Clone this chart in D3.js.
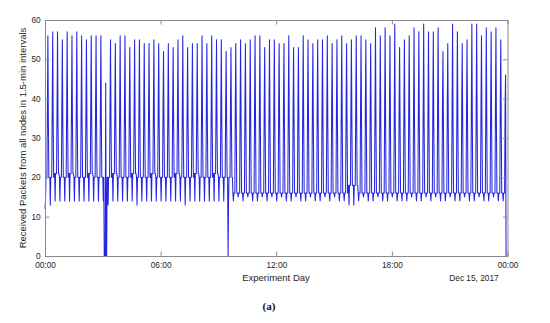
<!DOCTYPE html>
<html><head><meta charset="utf-8">
<script src="https://cdn.jsdelivr.net/npm/d3@7"></script>
<style>body{margin:0;background:#fff}svg{display:block}</style></head><body>
<svg id="c" width="550" height="323"></svg>
<script>
// ---- data ----
const xTickHours = [0, 6, 12, 18, 24];
const yTicks = [0, 10, 20, 30, 40, 50, 60];
// peak value of each 15-min cycle (96 cycles over the day)
const peaks = [
56,57,57,55,57,56,57,56,55,56,56,56,44,55,54,56,
56,53,55,55,54,54,55,54,52,54,53,55,56,53,54,54,
56,54,56,55,55,52,53,54,55,54,55,56,56,53,55,55,
54,54,56,53,53,56,55,54,55,55,56,54,55,56,54,55,
56,56,55,54,58,56,58,56,59,53,55,56,58,57,59,57,
57,58,52,54,59,57,54,55,59,59,56,58,57,58,55,46];
// lowest value of each cycle
const lows = [
14,13,14,14,14,14,14,14,14,14,14,14,14,13,14,14,
14,14,14,13,14,14,14,14,14,14,14,14,14,13,14,14,
14,14,14,14,14,14,14,14,15,14,15,14,14,15,14,15,
14,15,14,14,15,14,14,15,14,14,15,14,15,14,14,13,
13,14,15,14,14,15,14,14,15,14,14,14,15,14,14,15,
14,15,14,14,15,14,14,15,14,14,15,14,14,15,14,14];
// baseline level between peaks of each cycle
const mids = [
20,20,21,20,20,21,20,20,20,21,20,20,20,20,21,20,
20,20,21,20,20,20,21,20,20,20,20,21,20,20,20,21,
20,20,20,21,20,20,20,16,16,16,16,16,16,16,16,16,
16,16,16,16,16,16,16,16,16,16,16,16,16,16,16,18,
18,16,16,16,16,16,16,16,16,16,16,16,16,16,16,16,
16,16,16,16,16,16,16,16,16,16,16,16,16,16,16,16];
// levels crossed on the rising / falling flank of a peak
const flankLevels = [38, 34];
// individual samples that differ (sample index, value): start, dropouts, end
const overrides = [[0,12],[123,0],[124,0],[125,0],[127,0],[128,0],[380,0],[957,0],[958,0],[959,0]];

// ---- build the 1.5-min series ----
const t0 = new Date(2017, 11, 14, 0, 0, 0);
const step = 90 * 1000;
const values = [];
peaks.forEach((pk, k) => {
  const lo = lows[k], md = mids[k];
  values.push(md, lo, md, md, md, flankLevels[0], pk, flankLevels[1], md, md);
});
overrides.forEach(([i, v]) => { values[i] = v; });
const series = values.map((v, i) => ({t: new Date(+t0 + i * step), v}));

// ---- layout ----
const svg = d3.select("#c");
const L = 45, R = 507.5, T = 20, B = 256;
const x = d3.scaleTime().domain([t0, new Date(2017, 11, 15, 0, 0, 0)]).range([L, R]);
const y = d3.scaleLinear().domain([0, 60]).range([B, T]);
const axisColor = "#8a8a8a", textColor = "#262626";
const font = "'Liberation Sans', Arial, Helvetica, sans-serif";

// line
svg.append("path")
  .datum(series)
  .attr("fill", "none")
  .attr("stroke", "#2626e0")
  .attr("stroke-width", 1.05)
  .attr("stroke-linejoin", "round")
  .attr("d", d3.line().x(d => x(d.t)).y(d => y(d.v)));

const tickDates = xTickHours.map(h => new Date(+t0 + h * 3600 * 1000));
const fmt = d3.timeFormat("%H:%M");

function styleAxis(g, showText) {
  g.select(".domain").attr("stroke", axisColor).attr("stroke-width", 1);
  g.selectAll(".tick line").attr("stroke", axisColor);
  g.selectAll(".tick text").attr("fill", textColor).style("font-family", font).style("font-size", "8.3px");
  if (!showText) g.selectAll(".tick text").remove();
}

svg.append("g").attr("transform", `translate(0,${B})`)
  .call(d3.axisBottom(x).tickValues(tickDates).tickFormat(fmt).tickSizeInner(-4.5).tickSizeOuter(0).tickPadding(6))
  .call(g => styleAxis(g, true));
svg.append("g").attr("transform", `translate(0,${T})`)
  .call(d3.axisTop(x).tickValues(tickDates).tickFormat(fmt).tickSizeInner(-4.5).tickSizeOuter(0))
  .call(g => styleAxis(g, false));
svg.append("g").attr("transform", `translate(${L},0)`)
  .call(d3.axisLeft(y).tickValues(yTicks).tickSizeInner(-4.5).tickSizeOuter(0).tickPadding(4.3))
  .call(g => styleAxis(g, true));
svg.append("g").attr("transform", `translate(${R},0)`)
  .call(d3.axisRight(y).tickValues(yTicks).tickSizeInner(-4.5).tickSizeOuter(0))
  .call(g => styleAxis(g, false));

// labels
svg.append("text").attr("x", 276).attr("y", 281).attr("text-anchor", "middle")
  .attr("fill", textColor).style("font-family", font).style("font-size", "9.5px").text("Experiment Day");
svg.append("text").attr("x", 474).attr("y", 281).attr("text-anchor", "middle")
  .attr("fill", textColor).style("font-family", font).style("font-size", "8.3px").text("Dec 15, 2017");
svg.append("text").attr("transform", `translate(26,${(T + B) / 2}) rotate(-90)`).attr("text-anchor", "middle")
  .attr("fill", textColor).style("font-family", font).style("font-size", "9.5px")
  .text("Received Packets from all nodes in 1.5-min intervals");
svg.append("text").attr("x", 269).attr("y", 310).attr("text-anchor", "middle")
  .attr("fill", "#111").style("font-family", "'Liberation Serif', 'Times New Roman', serif")
  .style("font-weight", "bold").style("font-size", "11px").text("(a)");
</script></body></html>
